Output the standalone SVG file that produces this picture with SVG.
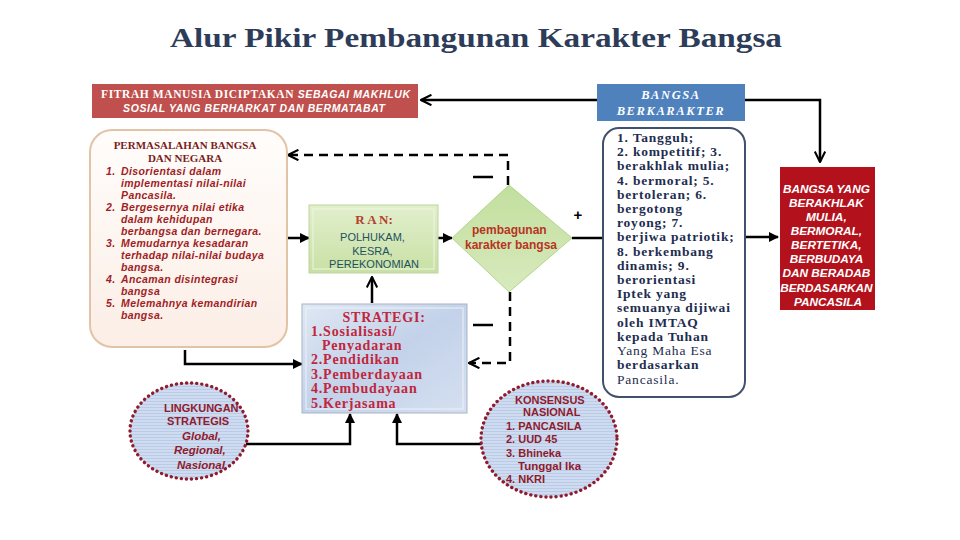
<svg xmlns="http://www.w3.org/2000/svg" width="960" height="540" viewBox="0 0 960 540">
<defs>
<style>
.ttl{font-family:"Liberation Serif","DejaVu Serif",serif;font-weight:bold;}
.sans{font-family:"Liberation Sans","DejaVu Sans",sans-serif;}
.ser{font-family:"Liberation Serif","DejaVu Serif",serif;}
.ln{fill:none;stroke:#000;stroke-width:2.5;}
.dash{fill:none;stroke:#000;stroke-width:2.5;stroke-dasharray:9 6;}
.dot{fill:none;stroke:#8e1b2e;stroke-width:3.4;stroke-linecap:round;stroke-dasharray:0.1 5;}
.perm{font-family:"Liberation Sans","DejaVu Sans",sans-serif;font-style:italic;font-weight:bold;font-size:10.5px;letter-spacing:0.4px;fill:#a11d24;}
.chr{font-family:"Liberation Serif","DejaVu Serif",serif;font-weight:bold;font-size:13.5px;letter-spacing:0.8px;fill:#1e2d4f;}
.str{font-family:"Liberation Serif","DejaVu Serif",serif;font-weight:bold;font-size:14px;letter-spacing:0.8px;fill:#c0263c;}
.red{font-family:"Liberation Sans","DejaVu Sans",sans-serif;font-style:italic;font-weight:bold;font-size:11.8px;fill:#fff;}
</style>
<marker id="arr" viewBox="0 0 10 10" refX="9" refY="5" markerWidth="4" markerHeight="4" orient="auto"><path d="M0,0 L10,5 L0,10 z" fill="#000"/></marker>
<marker id="chev" viewBox="0 0 12 12" refX="11" refY="6" markerWidth="5" markerHeight="5" orient="auto"><path d="M1,1 L11,6 L1,11" fill="none" stroke="#000" stroke-width="2"/></marker>
<linearGradient id="gGreen" x1="0" y1="0" x2="0" y2="1"><stop offset="0" stop-color="#e2efcd"/><stop offset="1" stop-color="#c8e0a4"/></linearGradient>
<linearGradient id="gDia" x1="0" y1="0" x2="0" y2="1"><stop offset="0" stop-color="#c2df9e"/><stop offset="1" stop-color="#d8eabd"/></linearGradient>
<linearGradient id="gBlue" x1="0" y1="0" x2="1" y2="1"><stop offset="0" stop-color="#dfe7f3"/><stop offset="0.5" stop-color="#c3d2ea"/><stop offset="1" stop-color="#d5dff0"/></linearGradient>
<linearGradient id="gPerm" x1="0" y1="0" x2="0" y2="1"><stop offset="0" stop-color="#fffdfb"/><stop offset="1" stop-color="#fbeee6"/></linearGradient>
<pattern id="stripe" width="4" height="3" patternUnits="userSpaceOnUse"><rect width="4" height="3" fill="#cfdbef"/><rect y="2" width="4" height="1" fill="#b9cbe8"/></pattern>
</defs>
<rect width="960" height="540" fill="#fff"/>
<text class="ttl" x="476" y="47" font-size="28" fill="#2d3c58" text-anchor="middle" textLength="612" lengthAdjust="spacingAndGlyphs">Alur Pikir Pembangunan Karakter Bangsa</text>

<g id="connectors">
<path class="ln" d="M597,100 H421" marker-end="url(#chev)" stroke-width="2"/>
<path class="ln" d="M745,100 H820 V162" marker-end="url(#chev)" stroke-width="2"/>
<path class="ln" d="M745,237 H778" marker-end="url(#arr)" stroke-width="1.5"/>
<path class="ln" d="M572,238 H603"/>
<text class="sans" x="578" y="220" font-size="15" font-weight="bold" text-anchor="middle">+</text>
<path class="dash" d="M508,185 V155 H288" marker-end="url(#chev)"/>
<path class="ln" d="M473,177 H493"/>
<path class="ln" d="M436,238 H452" marker-end="url(#arr)"/>
<path class="ln" d="M287,238 H309" marker-end="url(#arr)"/>
<path class="ln" d="M372,303 V277" marker-end="url(#chev)"/>
<path class="ln" d="M185,350 V364 H302" marker-end="url(#arr)"/>
<path class="dash" d="M510,292 V363 H469" marker-end="url(#chev)"/>
<path class="ln" d="M473,325 H493"/>
<path class="ln" d="M246,444 H350 V414" marker-end="url(#arr)"/>
<path class="ln" d="M482,444 H397 V414" marker-end="url(#arr)"/>
</g>

<g id="fitrah">
<rect x="92" y="84" width="326" height="34" fill="#c0504d"/>
<text x="101" y="98" fill="#fff" font-size="11.5" textLength="309" lengthAdjust="spacing"><tspan class="ser" font-weight="bold">FITRAH MANUSIA DICIPTAKAN </tspan><tspan class="sans" font-style="italic" font-weight="bold" font-size="10.5">SEBAGAI MAKHLUK</tspan></text>
<text class="sans" x="123" y="112" fill="#fff" font-size="10.5" font-style="italic" font-weight="bold" textLength="262" lengthAdjust="spacing">SOSIAL  YANG BERHARKAT DAN BERMATABAT</text>
</g>

<g id="bangsa-berkarakter">
<rect x="597" y="84" width="148" height="37" fill="#4f81bd"/>
<text class="ser" x="671" y="99" fill="#fff" font-size="12.5" font-weight="bold" font-style="italic" letter-spacing="1.6" text-anchor="middle">BANGSA</text>
<text class="ser" x="671" y="115" fill="#fff" font-size="12.5" font-weight="bold" font-style="italic" letter-spacing="1.6" text-anchor="middle">BERKARAKTER</text>
</g>

<g id="bangsa-yang">
<rect x="780" y="167" width="95" height="143" fill="#b3121d"/>
<text class="red" text-anchor="middle">
<tspan x="828" y="193">BANGSA YANG</tspan>
<tspan x="828" y="207">BERAKHLAK</tspan>
<tspan x="828" y="221">MULIA,</tspan>
<tspan x="828" y="235">BERMORAL,</tspan>
<tspan x="828" y="249">BERTETIKA,</tspan>
<tspan x="828" y="263">BERBUDAYA</tspan>
<tspan x="828" y="277">DAN BERADAB</tspan>
<tspan x="828" y="292">BERDASARKAN</tspan>
<tspan x="828" y="306">PANCASILA</tspan>
</text>
</g>

<g id="karakter">
<rect x="603" y="128" width="142" height="269" rx="16" fill="#fff" stroke="#42516b" stroke-width="2"/>
<text class="chr">
<tspan x="617" y="142">1. Tangguh;</tspan>
<tspan x="617" y="156">2. kompetitif; 3.</tspan>
<tspan x="617" y="170">berakhlak mulia;</tspan>
<tspan x="617" y="185">4. bermoral;  5.</tspan>
<tspan x="617" y="199">bertoleran; 6.</tspan>
<tspan x="617" y="213">bergotong</tspan>
<tspan x="617" y="227">royong; 7.</tspan>
<tspan x="617" y="241">berjiwa patriotik;</tspan>
<tspan x="617" y="256">8. berkembang</tspan>
<tspan x="617" y="270">dinamis; 9.</tspan>
<tspan x="617" y="284">berorientasi</tspan>
<tspan x="617" y="298">Iptek yang</tspan>
<tspan x="617" y="312">semuanya dijiwai</tspan>
<tspan x="617" y="327">oleh  IMTAQ</tspan>
<tspan x="617" y="341">kepada Tuhan</tspan>
<tspan x="617" y="355" font-weight="normal">Yang Maha Esa</tspan>
<tspan x="617" y="369">berdasarkan</tspan>
<tspan x="617" y="384" font-weight="normal">Pancasila.</tspan>
</text>
</g>

<g id="permasalahan">
<rect x="90" y="130" width="197" height="217" rx="22" fill="url(#gPerm)" stroke="#e3c3a5" stroke-width="2"/>
<text class="ser" x="185" y="149" font-size="11" font-weight="bold" fill="#7a1c1c" text-anchor="middle">PERMASALAHAN BANGSA</text>
<text class="ser" x="185" y="162" font-size="11" font-weight="bold" fill="#7a1c1c" text-anchor="middle">DAN NEGARA</text>
<text class="perm">
<tspan x="106" y="175">1.</tspan><tspan x="121" y="175">Disorientasi dalam</tspan>
<tspan x="121" y="187">implementasi nilai-nilai</tspan>
<tspan x="121" y="199">Pancasila.</tspan>
<tspan x="106" y="211">2.</tspan><tspan x="121" y="211">Bergesernya nilai etika</tspan>
<tspan x="121" y="223">dalam kehidupan</tspan>
<tspan x="121" y="235">berbangsa dan bernegara.</tspan>
<tspan x="106" y="247">3.</tspan><tspan x="121" y="247">Memudarnya kesadaran</tspan>
<tspan x="121" y="259">terhadap nilai-nilai budaya</tspan>
<tspan x="121" y="271">bangsa.</tspan>
<tspan x="106" y="283">4.</tspan><tspan x="121" y="283">Ancaman disintegrasi</tspan>
<tspan x="121" y="295">bangsa</tspan>
<tspan x="106" y="307">5.</tspan><tspan x="121" y="307">Melemahnya kemandirian</tspan>
<tspan x="121" y="319">bangsa.</tspan>
</text>
</g>

<g id="ran">
<rect x="309" y="205" width="129" height="68" fill="url(#gGreen)" stroke="#bcd69a" stroke-width="1"/>
<rect x="313" y="209" width="121" height="60" fill="none" stroke="#eef6e2" stroke-width="1"/>
<text class="ser" x="374" y="224" font-size="13" font-weight="bold" fill="#b5402a" text-anchor="middle">R A N:</text>
<text class="sans" font-size="11" fill="#1d5260" text-anchor="middle">
<tspan x="374" y="241">POLHUKAM,</tspan>
<tspan x="374" y="255">KESRA,</tspan>
<tspan x="374" y="268">PEREKONOMIAN</tspan>
</text>
</g>

<g id="pembangunan">
<polygon points="509,185 572,238 509,292 452,238" fill="url(#gDia)" stroke="#b4d48e" stroke-width="1"/>
<text class="sans" font-size="12" font-weight="bold" fill="#b8341f" text-anchor="middle">
<tspan x="511" y="234">pembagunan</tspan>
<tspan x="511" y="249">karakter bangsa</tspan>
</text>
</g>

<g id="strategi">
<rect x="302" y="304" width="165" height="109" fill="url(#gBlue)" stroke="#a9b4c4" stroke-width="1"/>
<rect x="306" y="308" width="157" height="101" fill="none" stroke="#eef2f9" stroke-width="1"/>
<text class="str" x="384" y="322" text-anchor="middle" letter-spacing="0.5">STRATEGI:</text>
<text class="str">
<tspan x="311" y="336">1.Sosialisasi/</tspan>
<tspan x="322" y="350">Penyadaran</tspan>
<tspan x="311" y="364">2.Pendidikan</tspan>
<tspan x="311" y="379">3.Pemberdayaan</tspan>
<tspan x="311" y="393">4.Pembudayaan</tspan>
<tspan x="311" y="408">5.Kerjasama</tspan>
</text>
</g>

<g id="lingkungan">
<ellipse cx="189" cy="431" rx="59" ry="48" fill="url(#stripe)"/>
<ellipse cx="189" cy="431" rx="59" ry="48" class="dot"/>
<text class="sans" font-size="11" font-weight="bold" fill="#8e1b2e">
<tspan x="164" y="412">LINGKUNGAN</tspan>
<tspan x="167" y="425">STRATEGIS</tspan>
</text>
<text class="sans" font-size="11.5" font-style="italic" font-weight="bold" fill="#8e1b2e">
<tspan x="182" y="440">Global,</tspan>
<tspan x="174" y="454">Regional,</tspan>
<tspan x="177" y="469">Nasional</tspan>
</text>
</g>

<g id="konsensus">
<ellipse cx="549" cy="439" rx="68" ry="58" fill="url(#stripe)"/>
<ellipse cx="549" cy="439" rx="68" ry="58" class="dot"/>
<text class="sans" font-size="11" font-weight="bold" fill="#8e1b2e">
<tspan x="515" y="404">KONSENSUS</tspan>
<tspan x="523" y="416">NASIONAL</tspan>
<tspan x="506" y="430">1. PANCASILA</tspan>
<tspan x="506" y="443">2. UUD 45</tspan>
<tspan x="506" y="457">3. Bhineka</tspan>
<tspan x="518" y="470" font-size="11.5">Tunggal Ika</tspan>
<tspan x="506" y="483">4. NKRI</tspan>
</text>
</g>
</svg>
